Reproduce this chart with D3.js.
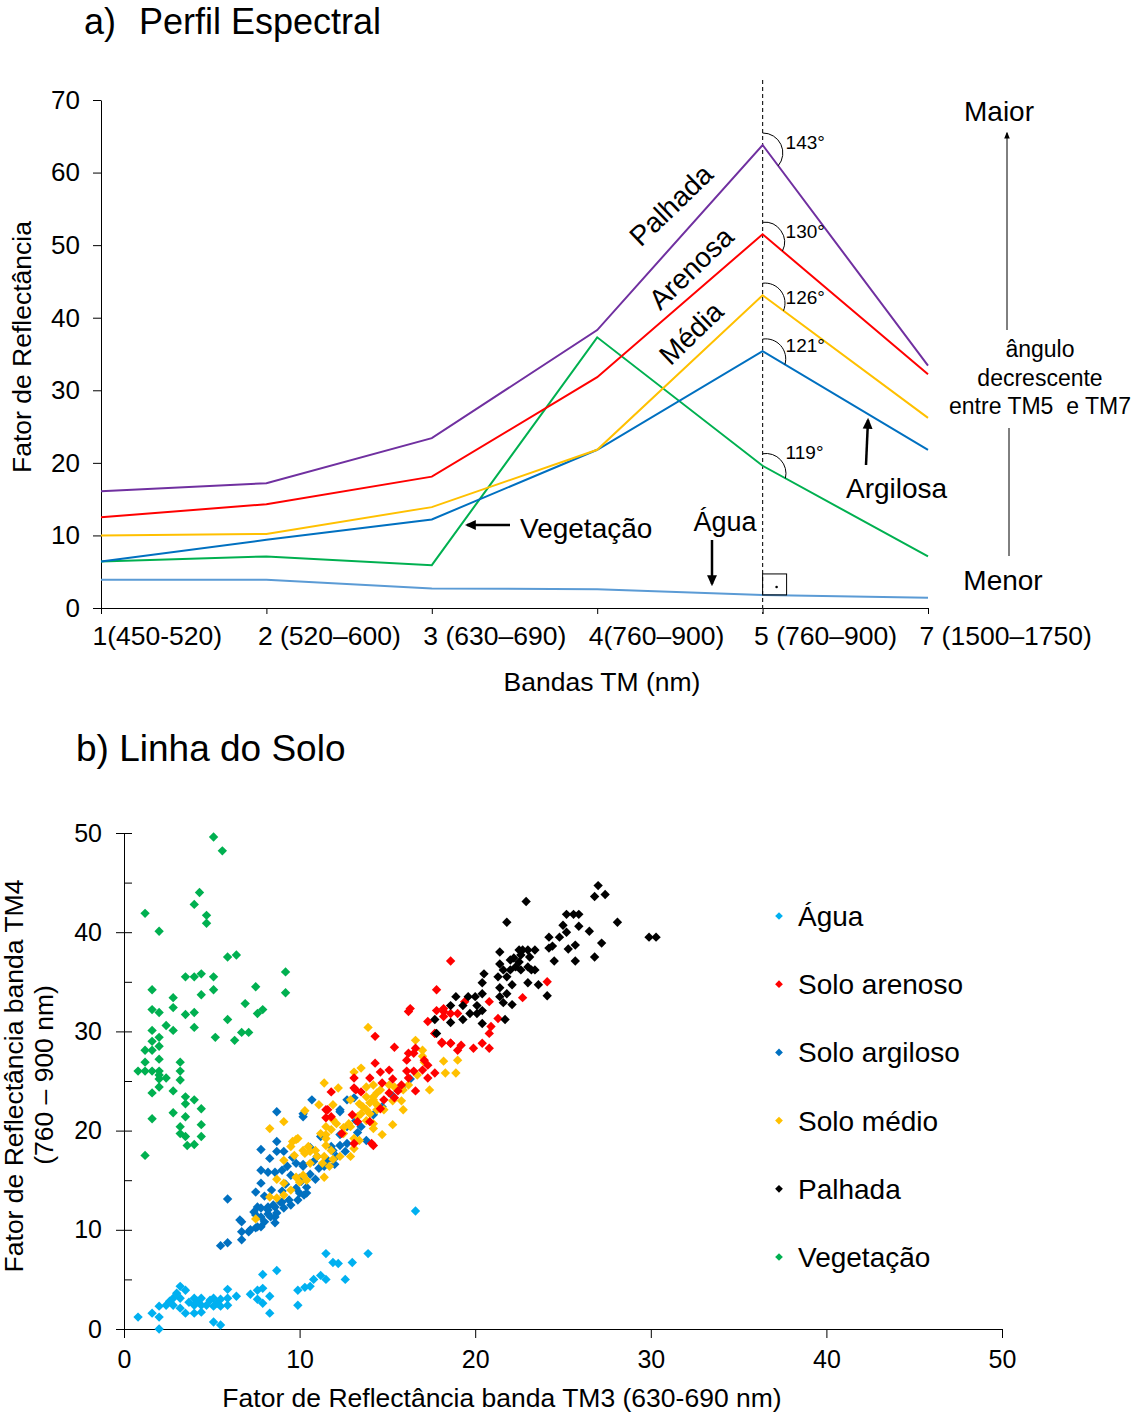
<!DOCTYPE html>
<html>
<head>
<meta charset="utf-8">
<script src="https://cdn.jsdelivr.net/npm/d3@7"></script>
<style>
  body { margin: 0; background: #fff; }
  svg text { font-family: "Liberation Sans", Arial, sans-serif; fill: #000; }
</style>
</head>
<body>
<svg id="chart" width="1137" height="1416"></svg>
<script>
// ---------- data: a) perfil espectral ----------
const bands = ["1(450-520)", "2 (520–600)", "3 (630–690)", "4(760–900)", "5 (760–900)", "7 (1500–1750)"]
const palhada   = [16.1, 17.2, 23.4, 38.3, 63.8, 33.4]
const arenosa   = [12.5, 14.3, 18.1, 31.8, 51.5, 32.2]
const media     = [10.0, 10.2, 13.9, 21.8, 43.1, 26.2]
const argilosa  = [6.4, 9.4, 12.2, 21.8, 35.4, 21.8]
const vegetacao = [6.4, 7.1, 5.9, 37.3, 19.6, 7.1]
const agua      = [3.9, 3.9, 2.7, 2.6, 1.8, 1.4]
const angleLabels = ["143°", "130°", "126°", "121°", "119°"]

// ---------- data: b) linha do solo (TM3, TM4) ----------
const aguaPts = [[0.8,1.2],[1.6,1.6],[2.0,0.0],[2.0,1.2],[2.0,2.3],[2.4,2.4],[2.8,3.1],[2.8,2.4],[3.2,3.1],[3.2,2.1],
  [3.2,4.3],[3.5,3.9],[3.5,1.6],[4.0,3.1],[4.0,2.4],[4.0,1.6],[4.4,3.1],[4.4,2.4],[4.4,1.7],[4.7,2.4],
  [5.1,3.1],[5.1,2.3],[5.1,0.7],[5.5,0.4],[5.5,3.0],[5.5,2.3],[5.9,3.1],[5.9,2.4],[5.9,4.0],[6.4,3.3],
  [7.2,3.5],[7.6,3.9],[7.6,3.0],[7.9,4.1],[7.9,2.6],[7.9,5.5],[8.3,3.3],[8.3,1.6],[8.7,5.9],[9.9,3.9],
  [10.3,4.2],[10.6,4.3],[9.9,2.4],[10.8,5.0],[11.2,5.4],[11.5,5.0],[11.5,7.6],[11.9,6.7],[12.2,6.6],[12.6,5.0],
  [13.0,6.7],[13.9,7.6],[16.6,11.9],[2.6,2.8],[3.7,2.7],[4.2,2.8],[4.9,2.9],[5.3,2.6],[3.0,3.6]]

const arenosoPts = [[11.8,23.9],[11.5,22.1],[11.5,21.3],[13.1,24.3],[12.4,19.7],[13.3,20.9],[14.0,20.9],[14.2,18.5],
  [16.2,32.0],[17.3,31.0],[17.7,29.8],[14.3,29.5],[15.4,28.4],[15.1,26.1],[16.2,27.8],[16.5,27.8],[16.6,28.3],[16.1,27.1],
  [17.1,27.1],[17.3,26.6],[17.0,26.1],[18.1,28.8],[18.6,28.8],[19.2,28.6],[19.0,28.1],[14.3,26.8],[14.6,25.9],[14.0,25.3],
  [15.3,25.2],[15.8,24.6],[14.7,24.8],[16.1,26.0],[16.5,26.0],[16.2,25.3],[17.3,25.3],[17.7,25.8],[13.1,25.3],[13.2,24.1],
  [13.5,23.9],[15.1,23.8],[15.4,23.3],[15.6,24.0],[14.8,23.1],[16.6,24.0],[11.6,22.1],[11.8,21.4],[13.0,21.6],[14.6,22.2],
  [13.1,18.7],[14.1,18.7],[18.2,32.0],[19.0,31.8],[18.6,37.1],[17.8,34.2],[16.3,32.3],[17.8,32.1],[18.2,32.3],[18.6,31.8],
  [18.2,31.5],[19.4,33.0],[20.8,33.0],[24.1,35.0],[22.7,33.4],[21.3,31.3],[20.9,30.5],[20.8,29.8],[17.7,29.8],[18.1,28.9],
  [18.6,28.8],[19.9,28.3],[20.4,28.8],[20.8,28.3]]

const argilosoPts = [[5.5,8.4],[5.9,8.7],[6.7,9.0],[6.7,9.8],[6.7,10.8],[7.1,9.8],[7.5,10.2],[7.4,11.8],[7.6,12.3],[7.8,10.3],
  [7.8,11.3],[8.2,11.6],[8.6,11.3],[8.2,12.3],[8.6,12.3],[9.0,12.8],[7.5,13.8],[7.8,14.7],[5.9,13.1],[7.8,16.0],
  [8.2,15.8],[8.6,15.8],[9.0,16.0],[7.8,18.1],[8.7,17.9],[8.3,17.2],[9.1,17.9],[8.7,18.9],[8.7,21.9],[10.7,23.1],
  [10.2,21.7],[10.0,15.2],[10.4,14.3],[10.1,14.9],[10.4,13.7],[10.0,13.7],[9.4,13.0],[9.0,13.9],[11.1,16.2],[11.4,16.5],
  [10.8,16.9],[12.3,21.9],[12.7,23.1],[13.1,23.3],[12.3,19.6],[12.7,18.7],[11.8,18.4],[12.1,17.4],[10.2,16.4],[12.3,22.1],
  [10.2,21.4],[12.7,20.4],[13.2,21.0],[12.3,18.5],[11.9,18.0],[13.8,19.0],[11.0,17.4],[11.4,16.4],[10.2,16.6],[9.8,16.7],
  [6.6,11.0],[7.2,10.0],[7.6,10.3],[8.0,10.8],[8.35,11.3],[8.7,11.7],[9.1,12.2],[9.5,12.5],[9.9,13.0],[10.25,13.5],
  [8.2,12.0],[8.5,12.5],[8.9,12.8],[7.5,11.5],[7.8,12.2],[8.6,10.7],[9.5,15.5],[9.2,14.6],[9.8,14.2],[10.6,15.6],
  [10.9,15.1],[11.6,17.0],[12.0,16.6],[12.6,17.9],[13.3,19.8],[13.5,20.4],[9.6,17.3],[9.3,16.4],[8.4,14.0],[8.0,13.4],
  [10.6,18.3],[11.2,19.4],[14.2,21.6],[14.7,22.4],[15.3,23.5],[15.8,24.4],[16.3,25.2]]

const medioPts = [[11.4,24.8],[11.1,22.6],[11.9,22.6],[10.3,22.0],[9.1,20.9],[8.3,20.2],[9.6,18.9],[9.9,19.2],[9.1,17.0],[8.7,15.1],
  [9.8,15.3],[10.2,15.5],[10.0,14.8],[10.4,15.0],[9.1,14.7],[9.5,14.0],[8.3,13.3],[8.7,13.2],[9.1,13.5],[7.5,11.1],
  [9.7,17.5],[10.2,18.0],[10.6,17.9],[11.0,17.4],[11.4,15.3],[11.2,19.7],[11.5,19.2],[11.8,20.1],[12.1,20.7],[12.5,19.7],
  [13.1,19.2],[12.9,20.4],[13.4,22.7],[13.8,22.1],[14.2,23.1],[13.3,21.4],[11.5,18.5],[11.8,18.0],[14.2,20.2],[14.4,23.8],
  [13.9,30.4],[16.6,29.1],[17.0,28.1],[17.1,26.9],[17.0,27.5],[18.2,27.0],[19.0,27.1],[18.9,25.8],[18.3,25.8],[17.4,24.1],
  [16.7,25.6],[16.2,24.6],[13.1,25.9],[13.5,26.3],[12.2,24.3],[13.8,24.4],[14.2,24.6],[13.8,23.4],[14.2,23.4],[14.6,24.1],
  [13.6,22.4],[14.0,22.8],[14.4,22.6],[13.5,21.7],[14.0,21.7],[14.4,22.1],[14.8,22.1],[13.8,21.0],[14.2,20.7],[15.1,24.6],
  [15.4,24.4],[15.9,24.1],[15.8,23.0],[15.3,23.0],[15.9,22.1],[15.3,20.6],[14.7,19.6],[12.9,23.1],[11.9,21.1],[11.5,20.4],
  [11.5,19.6],[12.5,20.3],[12.8,20.7],[13.1,18.2],[13.4,19.0],[9.5,18.4],[9.8,19.1],[10.5,18.4],[10.3,17.7],[10.9,18.0],
  [11.4,17.4],[11.9,17.1],[12.3,17.4],[12.9,17.4],[10.6,16.7],[11.3,16.7],[11.7,16.4]]

const palhadaPts = [[27.0,44.7],[26.8,43.6],[27.4,43.8],[22.9,43.1],[28.1,41.0],[29.9,39.5],[30.3,39.5],[21.8,41.0],[25.2,41.8],[25.6,41.8],
  [25.9,41.8],[25.0,40.7],[25.9,40.6],[26.5,40.1],[24.2,39.5],[24.8,39.5],[25.2,40.0],[24.2,38.4],[24.4,38.6],[25.3,38.3],
  [25.7,38.7],[27.2,38.9],[26.8,37.5],[25.7,37.1],[24.5,37.1],[21.4,38.0],[22.5,38.2],[22.7,38.2],[23.0,38.2],[23.4,38.2],
  [22.6,37.7],[23.1,37.5],[22.2,37.4],[22.0,37.2],[22.5,37.0],[22.3,36.5],[22.6,36.2],[21.4,36.8],[21.6,36.2],[22.0,36.2],
  [21.3,35.5],[21.8,35.5],[23.0,36.5],[23.2,36.2],[23.4,36.2],[20.5,35.8],[20.4,34.9],[23.0,34.9],[23.6,34.7],[22.1,34.7],
  [21.4,34.4],[24.1,33.6],[18.9,33.5],[18.6,32.6],[19.6,33.5],[19.3,32.6],[20.0,33.5],[20.1,32.6],[20.4,33.8],[21.4,33.5],
  [21.8,33.8],[21.6,32.9],[22.1,32.7],[19.7,31.8],[20.1,31.8],[20.4,32.1],[19.3,31.2],[20.4,30.8],[18.6,30.9],[17.7,31.2],
  [21.7,31.2],[17.8,29.8]]

const vegetacaoPts = [[5.1,49.6],[5.6,48.2],[4.3,44.0],[4.0,42.8],[4.7,41.7],[4.7,40.9],[1.2,41.9],[2.0,40.1],[5.9,37.5],[6.4,37.7],
  [3.5,35.5],[4.0,35.5],[4.4,35.8],[5.1,35.5],[5.1,34.2],[4.4,33.7],[1.6,34.2],[2.8,33.4],[7.5,34.5],[9.2,36.0],
  [9.2,33.9],[6.9,32.8],[7.6,31.8],[7.9,32.2],[1.6,32.2],[2.0,31.9],[2.8,32.4],[3.5,31.7],[4.0,31.9],[2.4,30.6],
  [2.8,30.1],[4.0,30.4],[5.9,31.2],[1.6,30.1],[6.7,29.9],[7.1,29.9],[5.2,29.4],[6.3,29.1],[2.0,29.4],[1.6,29.0],
  [2.0,28.5],[1.2,28.1],[1.6,28.1],[1.2,26.9],[2.0,27.2],[3.2,26.9],[0.8,26.0],[1.2,26.0],[1.6,26.0],[2.0,26.0],
  [2.0,25.6],[2.0,25.2],[2.4,25.3],[3.2,26.0],[3.2,25.1],[2.0,24.4],[2.8,24.0],[1.6,23.8],[3.5,23.4],[4.0,23.1],
  [3.5,22.7],[4.4,22.2],[2.8,21.8],[3.5,21.4],[1.6,21.2],[3.2,20.4],[3.2,19.7],[4.4,20.6],[3.5,19.4],[3.6,18.5],
  [4.0,18.6],[4.4,19.4],[1.2,17.5]]

const legendNames = ["Água", "Solo arenoso", "Solo argiloso", "Solo médio", "Palhada", "Vegetação"]

const svg = d3.select("#chart")
const FONT = '"Liberation Sans", Arial, sans-serif'

// arrow heads
const defs = svg.append("defs")
defs.append("marker").attr("id", "head").attr("viewBox", "0 0 10 10")
    .attr("refX", 8).attr("refY", 5).attr("markerWidth", 11).attr("markerHeight", 11)
    .attr("markerUnits", "userSpaceOnUse").attr("orient", "auto")
    .append("path").attr("d", "M0,0.5L10,5L0,9.5z").attr("fill", "#000")
defs.append("marker").attr("id", "headSmall").attr("viewBox", "0 0 10 10")
    .attr("refX", 8).attr("refY", 5).attr("markerWidth", 7).attr("markerHeight", 7)
    .attr("markerUnits", "userSpaceOnUse").attr("orient", "auto")
    .append("path").attr("d", "M0,1L10,5L0,9z").attr("fill", "#000")

// ================= a) Perfil Espectral =================
const xa = d3.scalePoint().domain(bands).range([101, 928])
const ya = d3.scaleLinear().domain([0, 70]).range([608, 100])

const gA = svg.append("g")

svg.append("text").attr("x", 84).attr("y", 34).attr("font-size", 36).text("a)")
svg.append("text").attr("x", 139).attr("y", 34).attr("font-size", 36).text("Perfil Espectral")

const yAxisA = d3.axisLeft(ya).tickValues(d3.range(0, 71, 10)).tickSize(8).tickSizeOuter(0).tickPadding(13)
gA.append("g").attr("transform", "translate(101,0)").call(yAxisA)
    .attr("font-size", 26).attr("font-family", FONT)

const xAxisA = d3.axisBottom(xa).tickSize(6).tickSizeOuter(0).tickPadding(12)
gA.append("g").attr("transform", "translate(0,608)").call(xAxisA)
    .attr("font-size", 26.5).attr("font-family", FONT)
    .selectAll(".tick text").attr("text-anchor", "start").attr("x", -9)

gA.append("text")
    .attr("transform", "translate(31,347) rotate(-90)")
    .attr("text-anchor", "middle").attr("font-size", 26.5)
    .text("Fator de Reflectância")
gA.append("text").attr("x", 602).attr("y", 691)
    .attr("text-anchor", "middle").attr("font-size", 26.5)
    .text("Bandas TM (nm)")

// vertical dashed line at band 5
const x5 = xa(bands[4])
gA.append("line").attr("x1", x5).attr("x2", x5).attr("y1", 80).attr("y2", 614)
    .attr("stroke", "#222").attr("stroke-width", 1.2).attr("stroke-dasharray", "4,3")

const profiles = [
    { values: agua,      color: "#5B9BD5" },
    { values: vegetacao, color: "#00B050" },
    { values: argilosa,  color: "#0070C0" },
    { values: media,     color: "#FFC000" },
    { values: arenosa,   color: "#FF0000" },
    { values: palhada,   color: "#7030A0" }
]

const line = d3.line()
    .x((d, i) => xa(bands[i]))
    .y(d => ya(d))

gA.selectAll(".profile")
    .data(profiles)
    .join("path")
    .attr("class", "profile")
    .attr("d", d => line(d.values))
    .attr("fill", "none")
    .attr("stroke", d => d.color)
    .attr("stroke-width", 2)

// angle arcs at band 5 (palhada, arenosa, media, argilosa, vegetacao)
const angled = [palhada, arenosa, media, argilosa, vegetacao]
const labelShift = [-3, -3, 2, -6, -14]
angled.forEach((vals, i) => {
    const cx = xa(bands[4]), cy = ya(vals[4])
    const nx = xa(bands[5]), ny = ya(vals[5])
    const ang = Math.atan2(nx - cx, -(ny - cy))
    const ex = cx + 26 * Math.sin(ang), ey = cy - 26 * Math.cos(ang)
    gA.append("path")
        .attr("d", `M${cx},${cy - 12}A20,20 0 0 1 ${ex},${ey}`)
        .attr("fill", "none").attr("stroke", "#000").attr("stroke-width", 1)
    gA.append("text")
        .attr("x", cx + 23).attr("y", cy + labelShift[i] + 7)
        .attr("font-size", 19)
        .text(angleLabels[i])
})

// right angle mark on the water line
const wy = ya(agua[4])
gA.append("rect").attr("x", x5).attr("y", wy - 21).attr("width", 24).attr("height", 21)
    .attr("fill", "none").attr("stroke", "#000").attr("stroke-width", 1)
gA.append("circle").attr("cx", x5 + 14).attr("cy", wy - 8).attr("r", 1.3).attr("fill", "#000")

// rotated line labels
const rotLabels = [["Palhada", 671, 205], ["Arenosa", 691, 268], ["Média", 691, 333]]
rotLabels.forEach(l => {
    gA.append("text")
        .attr("transform", `translate(${l[1]},${l[2]}) rotate(-44)`)
        .attr("text-anchor", "middle").attr("dy", "0.35em")
        .attr("font-size", 28)
        .text(l[0])
})

// other annotations
gA.append("text").attr("x", 520).attr("y", 538).attr("font-size", 28).text("Vegetação")
gA.append("line").attr("x1", 510).attr("y1", 525).attr("x2", 467).attr("y2", 525)
    .attr("stroke", "#000").attr("stroke-width", 2.5).attr("marker-end", "url(#head)")

gA.append("text").attr("x", 725).attr("y", 531).attr("text-anchor", "middle").attr("font-size", 27).text("Água")
gA.append("line").attr("x1", 712).attr("y1", 540).attr("x2", 712).attr("y2", 584)
    .attr("stroke", "#000").attr("stroke-width", 2.5).attr("marker-end", "url(#head)")

gA.append("text").attr("x", 846).attr("y", 498).attr("font-size", 28).text("Argilosa")
gA.append("line").attr("x1", 866).attr("y1", 465).attr("x2", 868).attr("y2", 420)
    .attr("stroke", "#000").attr("stroke-width", 2.5).attr("marker-end", "url(#head)")

gA.append("text").attr("x", 999).attr("y", 121).attr("text-anchor", "middle").attr("font-size", 28).text("Maior")
gA.append("line").attr("x1", 1007).attr("y1", 330).attr("x2", 1007).attr("y2", 133)
    .attr("stroke", "#000").attr("stroke-width", 1).attr("marker-end", "url(#headSmall)")
const mid = ["ângulo", "decrescente", "entre TM5  e TM7"]
mid.forEach((t, i) => {
    gA.append("text").attr("x", 1040).attr("y", 357 + i * 28.5)
        .attr("text-anchor", "middle").attr("font-size", 23)
        .style("white-space", "pre")
        .text(t)
})
gA.append("line").attr("x1", 1009).attr("y1", 428).attr("x2", 1009).attr("y2", 556)
    .attr("stroke", "#000").attr("stroke-width", 1)
gA.append("text").attr("x", 1003).attr("y", 590).attr("text-anchor", "middle").attr("font-size", 28).text("Menor")

// ================= b) Linha do Solo =================
const xb = d3.scaleLinear().domain([0, 50]).range([124, 1002])
const yb = d3.scaleLinear().domain([0, 50]).range([1329, 833])

const gB = svg.append("g")

svg.append("text").attr("x", 76).attr("y", 761).attr("font-size", 37).text("b) Linha do Solo")

const xAxisB = d3.axisBottom(xb).tickValues(d3.range(0, 51, 10)).tickSize(9).tickSizeOuter(0).tickPadding(12)
gB.append("g").attr("transform", "translate(0,1329)").call(xAxisB)
    .attr("font-size", 25).attr("font-family", FONT)

const yAxisB = d3.axisLeft(yb).tickValues(d3.range(0, 51, 10)).tickSize(8).tickSizeOuter(0).tickPadding(14)
const ygB = gB.append("g").attr("transform", "translate(124,0)").call(yAxisB)
    .attr("font-size", 25).attr("font-family", FONT)
ygB.selectAll(".tick line").attr("x1", 8)

// minor ticks inside
const yMinorB = d3.axisLeft(yb).tickValues(d3.range(5, 50, 10)).tickSize(-8).tickFormat("")
gB.append("g").attr("transform", "translate(124,0)").call(yMinorB)
    .select(".domain").remove()

gB.append("text").attr("x", 502).attr("y", 1407)
    .attr("text-anchor", "middle").attr("font-size", 26.5)
    .text("Fator de Reflectância banda TM3 (630-690 nm)")
gB.append("text").attr("transform", "translate(23,1076) rotate(-90)")
    .attr("text-anchor", "middle").attr("font-size", 26.5)
    .text("Fator de Reflectância banda TM4")
gB.append("text").attr("transform", "translate(53,1075) rotate(-90)")
    .attr("text-anchor", "middle").attr("font-size", 26.5)
    .text("(760 – 900 nm)")

const soilSeries = [
    { name: legendNames[0], points: aguaPts,      color: "#00B0F0" },
    { name: legendNames[1], points: arenosoPts,   color: "#FF0000" },
    { name: legendNames[2], points: argilosoPts,  color: "#0070C0" },
    { name: legendNames[3], points: medioPts,     color: "#FFC000" },
    { name: legendNames[4], points: palhadaPts,   color: "#000000" },
    { name: legendNames[5], points: vegetacaoPts, color: "#00B050" }
]

const diamond = d3.symbol(d3.symbolSquare, 44)
// draw order: clay and medium below sandy
const drawOrder = [0, 2, 3, 1, 4, 5]
drawOrder.forEach(k => {
    const s = soilSeries[k]
    gB.append("g").selectAll("path")
        .data(s.points)
        .join("path")
        .attr("d", diamond)
        .attr("transform", d => `translate(${xb(d[0])},${yb(d[1])}) rotate(45)`)
        .attr("fill", s.color)
})

// legend
const legend = gB.append("g").attr("transform", "translate(779,916)")
soilSeries.forEach((s, i) => {
    const row = legend.append("g").attr("transform", `translate(0,${i * 68.2})`)
    row.append("path").attr("d", d3.symbol(d3.symbolSquare, 30)).attr("transform", "rotate(45)").attr("fill", s.color)
    row.append("text").attr("x", 19).attr("y", 10).attr("font-size", 28).text(s.name)
})
</script>
</body>
</html>
